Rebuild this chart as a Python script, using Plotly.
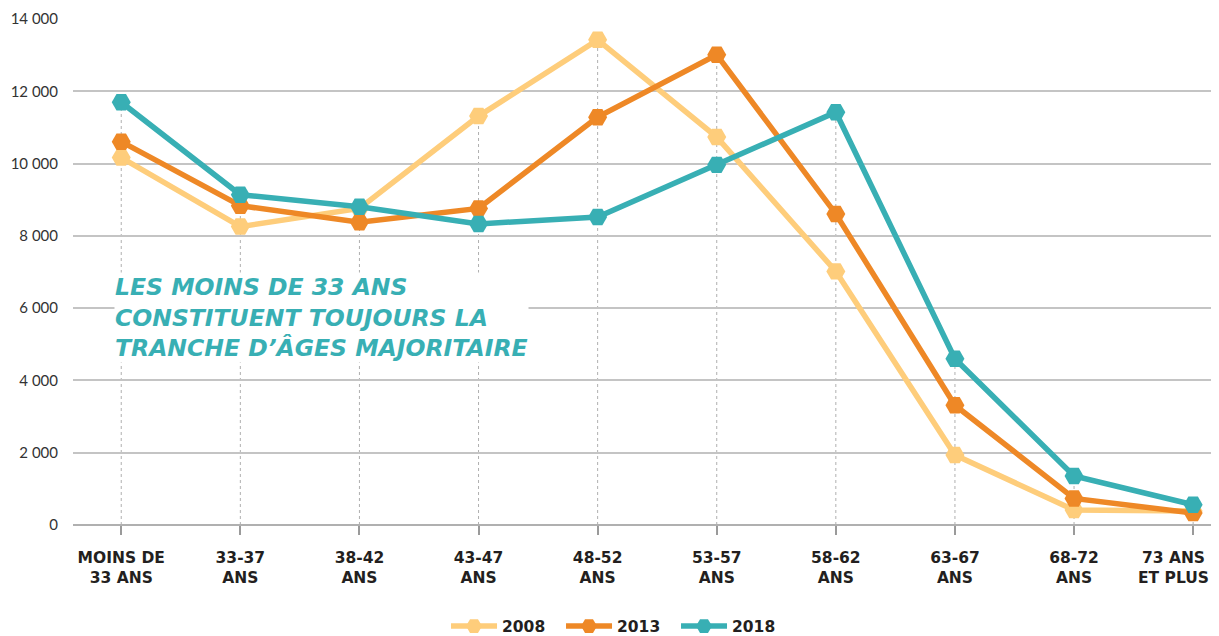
import plotly.graph_objects as go

categories = ["MOINS DE<br>33 ANS", "33-37<br>ANS", "38-42<br>ANS", "43-47<br>ANS", "48-52<br>ANS",
              "53-57<br>ANS", "58-62<br>ANS", "63-67<br>ANS", "68-72<br>ANS", "73 ANS<br>ET PLUS"]
years = ["2008", "2013", "2018"]
v2008 = [10165, 8256, 8760, 11314, 13424, 10733, 7017, 1937, 413, 386]
v2013 = [10605, 8835, 8375, 8760, 11284, 13011, 8606, 3313, 735, 330]
v2018 = [11697, 9138, 8807, 8330, 8520, 9964, 11421, 4598, 1358, 560]
colors = ["#FECD7B", "#EE8826", "#38AFB4"]
yticks = [0, 2000, 4000, 6000, 8000, 10000, 12000, 14000]
note = "LES MOINS DE 33 ANS<br>CONSTITUENT TOUJOURS LA<br>TRANCHE D’ÂGES MAJORITAIRE"

series = [v2008, v2013, v2018]
x_idx = list(range(len(categories)))
HEAVY = "DejaVu Sans"
label_font = dict(size=15.5, family=HEAVY, color="#231F20")

fig = go.Figure()
for name, vals, col in zip(years, series, colors):
    fig.add_trace(go.Scatter(
        x=x_idx, y=vals, name="<b>" + name + "</b>", mode="lines+markers",
        line=dict(color=col, width=5.5),
        marker=dict(symbol="hexagon2", size=19, color=col),
        cliponaxis=False,
    ))

# dotted drop lines from the highest value down to zero
for i in x_idx:
    top = max(s[i] for s in series)
    fig.add_shape(type="line", xref="x", yref="y", x0=i, x1=i, y0=0, y1=top,
                  line=dict(color="#AFAFAF", width=1, dash="dot"), layer="below")

fig.add_annotation(
    text="<b><i>" + note + "</i></b>", xref="x", yref="y",
    x=-0.06, y=7000, xanchor="left", yanchor="top", align="left", showarrow=False,
    font=dict(family=HEAVY, size=23.5, color="#38AFB4"),
    bgcolor="white", borderpad=0,
)

# last category label kept inside the right edge (as in the reference)
ticktext = ["<b>" + c + "</b>" for c in categories[:-1]] + [""]
fig.add_annotation(
    text="<b>" + categories[-1] + "</b>", xref="paper", yref="paper",
    x=1, y=0, xanchor="right", yanchor="top", yshift=-22, align="center",
    showarrow=False, font=label_font,
)

fig.update_layout(
    width=1203, height=628,
    margin=dict(l=65, r=0, t=11, b=111, autoexpand=False),
    plot_bgcolor="white", paper_bgcolor="white",
    separators=", ",
    font=dict(family="Lato", color="#231F20"),
    showlegend=True,
    legend=dict(orientation="h", xref="container", yref="container", x=0.5075, xanchor="center",
                y=0.0151, yanchor="middle",
                font=dict(size=15.5, family=HEAVY, color="#231F20"),
                itemwidth=46, entrywidth=54, traceorder="normal"),
    xaxis=dict(
        tickmode="array", tickvals=x_idx, ticktext=ticktext,
        range=[-0.405, 9.15], showgrid=False, zeroline=False, automargin=False,
        showline=False, ticks="outside", tickson="boundaries", ticklen=9, tickwidth=1.5,
        tickcolor="#9A9A9A", tickfont=label_font,
        ticklabelstandoff=9, ticklabeloverflow="allow",
    ),
    yaxis=dict(
        range=[0, 14000], tickvals=yticks, tickformat=",d", showgrid=True, automargin=False,
        gridcolor="#C4C4C4", gridwidth=1.5, zeroline=True, zerolinecolor="#B0B0B0",
        zerolinewidth=1.5, showline=False, ticks="", ticklabelstandoff=14,
        tickfont=dict(size=15, family="Lato", color="#333333"),
    ),
)

fig.write_html("out.html")
